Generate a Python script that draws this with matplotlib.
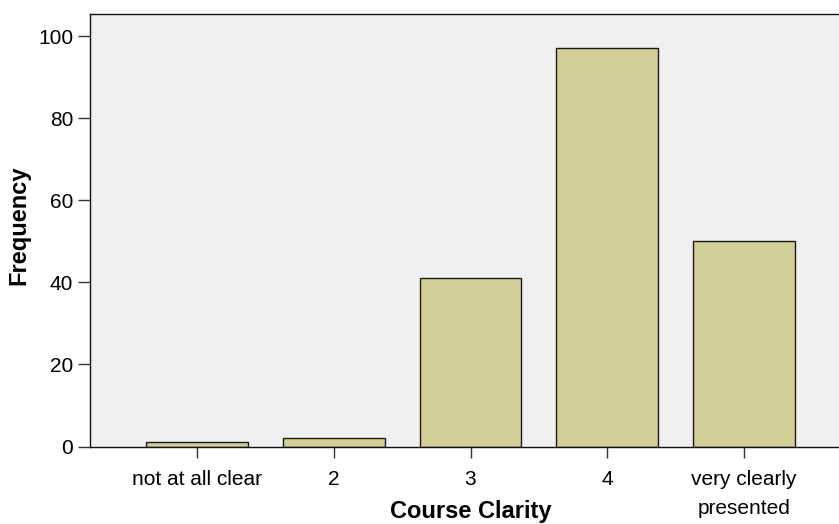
import matplotlib
matplotlib.use("Agg")
import matplotlib.pyplot as plt

categories = ["not at all clear", "2", "3", "4", "very clearly\npresented"]
frequencies = [1, 2, 41, 97, 50]
y_ticks = [0, 20, 40, 60, 80, 100]

plt.rcParams['font.family'] = ['Liberation Sans', 'DejaVu Sans']

W, H = 839, 524
fig = plt.figure(figsize=(W / 100, H / 100), dpi=100)
left, right, top, bottom = 90, 851, 14, 446.5
ax = fig.add_axes([left / W, (H - bottom) / H, (right - left) / W, (bottom - top) / H])
ax.set_facecolor('#f0f0f0')

x = list(range(len(categories)))
ax.bar(x, frequencies, width=0.745, color='#d3ce97', edgecolor='#1a1a1a', linewidth=1.0, zorder=2)

ax.set_xlim(-0.78, 4.78)
ax.set_ylim(0, 105.4)
ax.set_xticks(x)
ax.set_xticklabels(categories, fontsize=15, linespacing=1.65)
ax.set_yticks(y_ticks)
ax.set_yticklabels([str(v) for v in y_ticks], fontsize=15)
ax.tick_params(axis='x', direction='out', length=8, width=1.0, pad=9, colors='#333333', labelcolor='black')
ax.tick_params(axis='y', direction='out', length=8.5, width=1.0, pad=3.5, colors='#333333', labelcolor='black')

for s in ['top', 'left', 'bottom']:
    ax.spines[s].set_linewidth(1.0)
    ax.spines[s].set_color('#111111')
ax.spines['right'].set_visible(False)

ax.set_ylabel("Frequency", fontsize=17, fontweight='bold', va='center')
ax.yaxis.set_label_coords(-(90 - 19) / 761, (446.5 - 225) / 432.5)
ax.set_xlabel("Course Clarity", fontsize=17, fontweight='bold', va='baseline')
ax.xaxis.set_label_coords((471 - 90) / 761, -(518 - 446.5) / 432.5)

fig.savefig("out.png", dpi=100)
